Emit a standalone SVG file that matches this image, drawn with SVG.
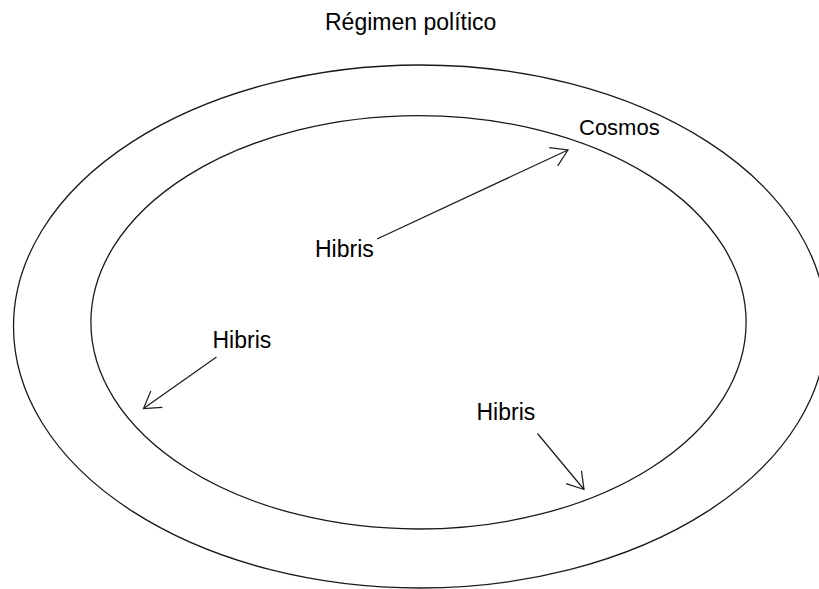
<svg xmlns="http://www.w3.org/2000/svg" width="819" height="589" viewBox="0 0 819 589">
<style>
.ring{fill:none;stroke:#1a1a1a;stroke-width:1.3}
.lbl{font-family:"Liberation Sans",Arial,sans-serif;font-size:23px;fill:#000}
.arr{fill:none;stroke:#1a1a1a;stroke-width:1.2}
</style>
<defs>
<marker id="ah" viewBox="-20 -12 22 24" refX="0" refY="0" markerWidth="22" markerHeight="24" markerUnits="userSpaceOnUse" orient="auto" overflow="visible">
<path d="M-16,-10 L0,0 L-16,10" fill="none" stroke="#1a1a1a" stroke-width="1.2"/>
</marker>
</defs>
<rect width="819" height="589" fill="#fff"/>
<g id="regimen">
<ellipse class="ring" cx="420" cy="326.5" rx="406.5" ry="261.5"/>
<text class="lbl" x="325" y="29.5">Régimen político</text>
</g>
<g id="cosmos">
<ellipse class="ring" cx="418.5" cy="322.3" rx="327.6" ry="206.7"/>
<text class="lbl" x="579" y="135" style="font-size:22px">Cosmos</text>
</g>
<g id="hibris1"><text class="lbl" x="315" y="257">Hibris</text></g>
<g id="hibris2"><text class="lbl" x="212.5" y="347.5">Hibris</text></g>
<g id="hibris3"><text class="lbl" x="476.5" y="420">Hibris</text></g>
<g id="connectors">
<line class="arr" x1="377" y1="239" x2="568" y2="150" marker-end="url(#ah)"/>
<line class="arr" x1="216.5" y1="357" x2="143.5" y2="408.5" marker-end="url(#ah)"/>
<line class="arr" x1="537.5" y1="433.5" x2="584" y2="489.5" marker-end="url(#ah)"/>
</g>
</svg>
